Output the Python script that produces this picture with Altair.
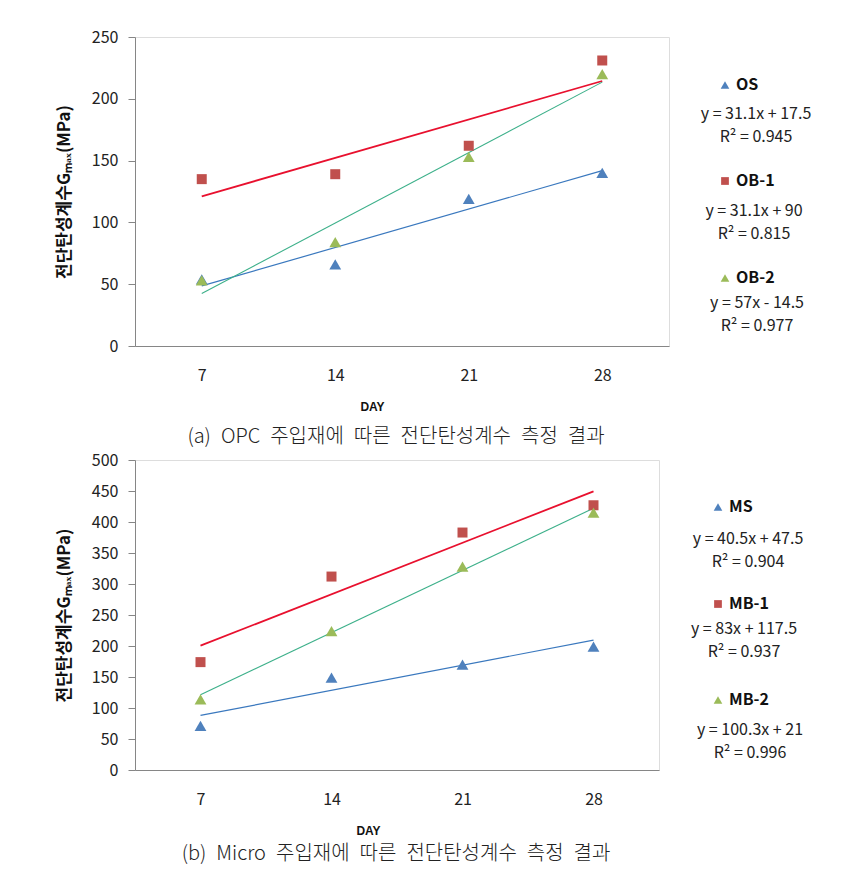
import altair as alt
import pandas as pd

# ---------------- data ----------------
days = [7, 14, 21, 28]

opc_series = ["OS", "OB-1", "OB-2"]
opc_os = [54, 66, 119, 140]
opc_ob1 = [135, 139, 162, 231]
opc_ob2 = [53, 84, 153, 220]
opc_slope = [31.1, 31.1, 57]
opc_intercept = [17.5, 90, -14.5]
opc_eq = ["y = 31.1x + 17.5", "y = 31.1x + 90", "y = 57x - 14.5"]
opc_r2 = ["R² = 0.945", "R² = 0.815", "R² = 0.977"]

micro_series = ["MS", "MB-1", "MB-2"]
micro_ms = [71, 149, 170, 199]
micro_mb1 = [174, 312, 383, 427]
micro_mb2 = [114, 224, 328, 415]
micro_slope = [40.5, 83, 100.3]
micro_intercept = [47.5, 117.5, 21]
micro_eq = ["y = 40.5x + 47.5", "y = 83x + 117.5", "y = 100.3x + 21"]
micro_r2 = ["R² = 0.904", "R² = 0.937", "R² = 0.996"]

y_title = "전단탄성계수Gₘₐₓ(MPa)"
x_title = "DAY"
caption_a = "(a)\u2002OPC\u2002주입재에\u2002따른\u2002전단탄성계수\u2002측정\u2002결과"
caption_b = "(b)\u2002Micro\u2002주입재에\u2002따른\u2002전단탄성계수\u2002측정\u2002결과"

# ---------------- styles ----------------
FONT = "Noto Sans CJK KR"
marker_colors = ["#4F81BD", "#C0504D", "#9BBB59"]
marker_shapes = ["triangle-up", "square", "triangle-up"]
marker_sizes = [140, 100, 140]
line_colors = ["#3A78BE", "#E8102E", "#3DB08A"]
line_widths = [1.2, 1.8, 1.1]
GRAY = "#868686"


def panel(series, values, slopes, intercepts, eqs, r2s, ymax, ystep,
          width, height, caption, cap_pos, ann, xtitle_x):
    xenc = alt.X(
        "day:Q",
        scale=alt.Scale(domain=[3.5, 31.5], nice=False, zero=False),
        axis=alt.Axis(values=days, ticks=False, tickSize=0, grid=False,
                      labelPadding=21, labelFontSize=16, labelFont=FONT,
                      labelColor="#222222",
                      domainColor=GRAY, title=x_title, titleFont="Liberation Sans",
                      titleFontSize=12, titleFontWeight="bold", titleColor="#111111",
                      titleX=xtitle_x, titleY=60, titleAlign="center",
                      titleBaseline="middle"),
    )
    yenc = alt.Y(
        "value:Q",
        scale=alt.Scale(domain=[0, ymax], nice=False),
        axis=alt.Axis(values=list(range(0, ymax + 1, ystep)), grid=False,
                      tickSize=7, tickColor=GRAY, domainColor=GRAY,
                      labelPadding=10, labelFontSize=16, labelFont=FONT,
                      labelColor="#222222",
                      title=y_title, titleFont=FONT, titleFontSize=17,
                      titleFontWeight="bold", titleColor="#111111",
                      titleX=-71, titleY=height / 2, titleAngle=270,
                      titleAlign="center", titleBaseline="middle"),
    )
    layers = []
    # trend lines
    for i, name in enumerate(series):
        tdf = pd.DataFrame({
            "day": [days[0], days[-1]],
            "value": [slopes[i] * (days[0] / 7) + intercepts[i],
                      slopes[i] * (days[-1] / 7) + intercepts[i]],
        })
        layers.append(
            alt.Chart(tdf).mark_line(color=line_colors[i], strokeWidth=line_widths[i])
            .encode(x=xenc, y=yenc)
        )
    # markers
    for i, name in enumerate(series):
        pdf = pd.DataFrame({"day": days, "value": values[i]})
        layers.append(
            alt.Chart(pdf).mark_point(shape=marker_shapes[i], filled=True, opacity=1,
                                      color=marker_colors[i], size=marker_sizes[i])
            .encode(x=xenc, y=yenc)
        )
    # custom legend / equation annotations
    for i, name in enumerate(series):
        sx, sy, ex, ey, ry = ann[i]
        layers.append(
            alt.Chart(pd.DataFrame({"t": [name]})).mark_point(
                shape=marker_shapes[i], filled=True, opacity=1,
                color=marker_colors[i], size=75 if i != 1 else 60)
            .encode(x=alt.value(sx), y=alt.value(sy))
        )
        layers.append(
            alt.Chart(pd.DataFrame({"t": [name]})).mark_text(
                align="left", baseline="middle", font=FONT, fontSize=16,
                fontWeight="bold", color="#111111")
            .encode(x=alt.value(sx + 11), y=alt.value(sy), text="t:N")
        )
        layers.append(
            alt.Chart(pd.DataFrame({"t": [eqs[i]]})).mark_text(
                align="center", baseline="middle", font=FONT, fontSize=16,
                color="#222222")
            .encode(x=alt.value(ex), y=alt.value(ey), text="t:N")
        )
        layers.append(
            alt.Chart(pd.DataFrame({"t": [r2s[i]]})).mark_text(
                align="center", baseline="middle", font=FONT, fontSize=16,
                color="#222222")
            .encode(x=alt.value(ex), y=alt.value(ry), text="t:N")
        )
    # caption
    layers.append(
        alt.Chart(pd.DataFrame({"t": [caption]})).mark_text(
            align="center", baseline="middle", font=FONT, fontSize=20,
            fontWeight=300, color="#222222")
        .encode(x=alt.value(cap_pos[0]), y=alt.value(cap_pos[1]), text="t:N")
    )
    return alt.layer(*layers).properties(width=width, height=height)


top = panel(
    opc_series, [opc_os, opc_ob1, opc_ob2], opc_slope, opc_intercept, opc_eq, opc_r2,
    250, 50, 534, 309, caption_a, (261, 400),
    [(590, 48, 621, 77, 100), (590, 144, 619, 174, 197), (590, 241, 622, 266, 289)],
    237,
)
bottom = panel(
    micro_series, [micro_ms, micro_mb1, micro_mb2], micro_slope, micro_intercept,
    micro_eq, micro_r2,
    500, 50, 524, 310, caption_b, (261, 394),
    [(583, 47, 613, 79, 102), (583, 144, 609, 169, 192), (583, 240, 615, 270, 293)],
    233,
)

chart = alt.vconcat(top, bottom, spacing=3).properties(
    padding={"left": 46, "top": 20, "right": 5, "bottom": 5}
).configure_view(stroke=GRAY, strokeWidth=1).configure(background="white")

chart.save("out.html", embed_options={"renderer": "svg", "actions": False})
